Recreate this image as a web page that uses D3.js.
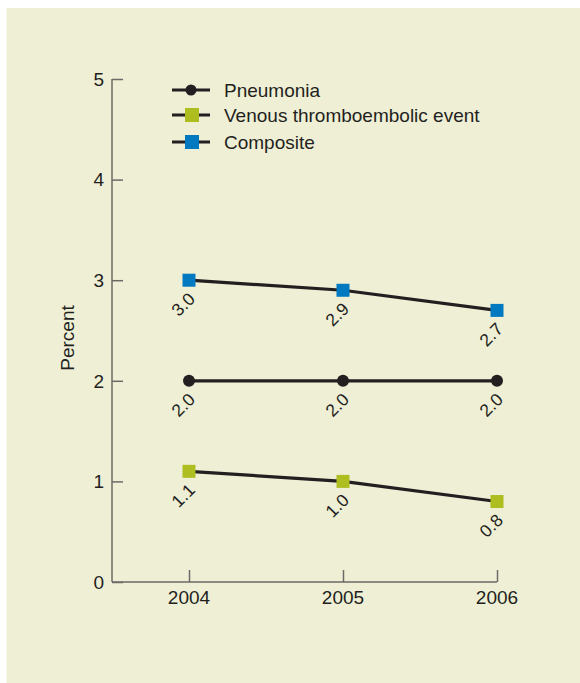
<!DOCTYPE html>
<html>
<head>
<meta charset="utf-8">
<script src="https://cdn.jsdelivr.net/npm/d3@7"></script>
<style>
  html, body { margin: 0; padding: 0; background: #ffffff; }
  svg { display: block; }
  text { font-family: "Liberation Sans", Arial, Helvetica, sans-serif; fill: #231f20; }
</style>
</head>
<body>
<svg id="chart" width="580" height="683"></svg>
<script>
const years = [2004, 2005, 2006];
const seriesNames = ["Pneumonia", "Venous thromboembolic event", "Composite"];
const pneumonia = [2.0, 2.0, 2.0];
const venous = [1.1, 1.0, 0.8];
const composite = [3.0, 2.9, 2.7];
const yTicks = [0, 1, 2, 3, 4, 5];
const yLabel = "Percent";

const series = [
  { name: seriesNames[0], values: pneumonia, shape: "circle", color: "#231f20" },
  { name: seriesNames[1], values: venous, shape: "square", color: "#aebd1f" },
  { name: seriesNames[2], values: composite, shape: "square", color: "#0079c1" }
];

const svg = d3.select("#chart");
svg.append("rect").attr("x", 6.5).attr("y", 8).attr("width", 574).attr("height", 675).attr("fill", "#efefd6");

const x = d3.scaleLinear().domain([2004, 2006]).range([189, 497]);
const y = d3.scaleLinear().domain([0, 5]).range([582, 79]);
const axisX0 = 112;
const axisColor = "#6a6a66";

// Y axis
const yAxis = svg.append("g").attr("transform", `translate(${axisX0},0)`)
  .call(d3.axisRight(y).tickValues(yTicks).tickSize(11).tickFormat(""));
yAxis.select(".domain").remove();
yAxis.selectAll(".tick line").attr("stroke", axisColor).attr("stroke-width", 1.5);
svg.append("line").attr("x1", axisX0).attr("x2", axisX0).attr("y1", y(5)).attr("y2", y(0))
  .attr("stroke", axisColor).attr("stroke-width", 1.5);
svg.append("g").selectAll("text").data(yTicks).join("text")
  .attr("x", axisX0 - 8).attr("y", d => y(d)).attr("dy", "0.36em")
  .attr("text-anchor", "end").attr("font-size", 19).text(d => d);

// X axis
const xAxis = svg.append("g").attr("transform", `translate(0,${y(0)})`)
  .call(d3.axisTop(x).tickValues(years).tickSize(12).tickFormat(""));
xAxis.select(".domain").remove();
xAxis.selectAll(".tick line").attr("stroke", axisColor).attr("stroke-width", 1.5);
svg.append("line").attr("x1", axisX0).attr("x2", x(2006)).attr("y1", y(0)).attr("y2", y(0))
  .attr("stroke", axisColor).attr("stroke-width", 1.5);
svg.append("g").selectAll("text").data(years).join("text")
  .attr("x", d => x(d)).attr("y", y(0) + 21.5)
  .attr("text-anchor", "middle").attr("font-size", 19).text(d => d);

// Y label
svg.append("text").attr("transform", `translate(74,338) rotate(-90)`)
  .attr("text-anchor", "middle").attr("font-size", 19).text(yLabel);

// Lines & markers
const line = d3.line().x((d, i) => x(years[i])).y(d => y(d));
series.forEach(s => {
  svg.append("path").attr("d", line(s.values)).attr("fill", "none")
    .attr("stroke", "#231f20").attr("stroke-width", 3.2);
  const g = svg.append("g");
  s.values.forEach((v, i) => {
    const cx = x(years[i]), cy = y(v);
    if (s.shape === "circle") {
      g.append("circle").attr("cx", cx).attr("cy", cy).attr("r", 6).attr("fill", s.color);
    } else {
      g.append("rect").attr("x", cx - 6.5).attr("y", cy - 6.5).attr("width", 13).attr("height", 13).attr("fill", s.color);
    }
    const lx = cx - 6, ly = cy + 24;
    g.append("text").attr("transform", `translate(${lx},${ly}) rotate(-45)`)
      .attr("text-anchor", "middle").attr("dy", "0.36em").attr("font-size", 17.5)
      .text(v.toFixed(1));
  });
});

// Legend
const legY = [90, 115, 142];
series.forEach((s, i) => {
  const g = svg.append("g");
  const ly = legY[i];
  g.append("line").attr("x1", 172).attr("x2", 210).attr("y1", ly).attr("y2", ly)
    .attr("stroke", "#231f20").attr("stroke-width", 3.2);
  if (s.shape === "circle") {
    g.append("circle").attr("cx", 191).attr("cy", ly).attr("r", 5.5).attr("fill", s.color);
  } else {
    g.append("rect").attr("x", 185).attr("y", ly - 7).attr("width", 14).attr("height", 14).attr("fill", s.color);
  }
  g.append("text").attr("x", 224).attr("y", ly).attr("dy", "0.36em").attr("font-size", 19).text(s.name);
});
</script>
</body>
</html>
